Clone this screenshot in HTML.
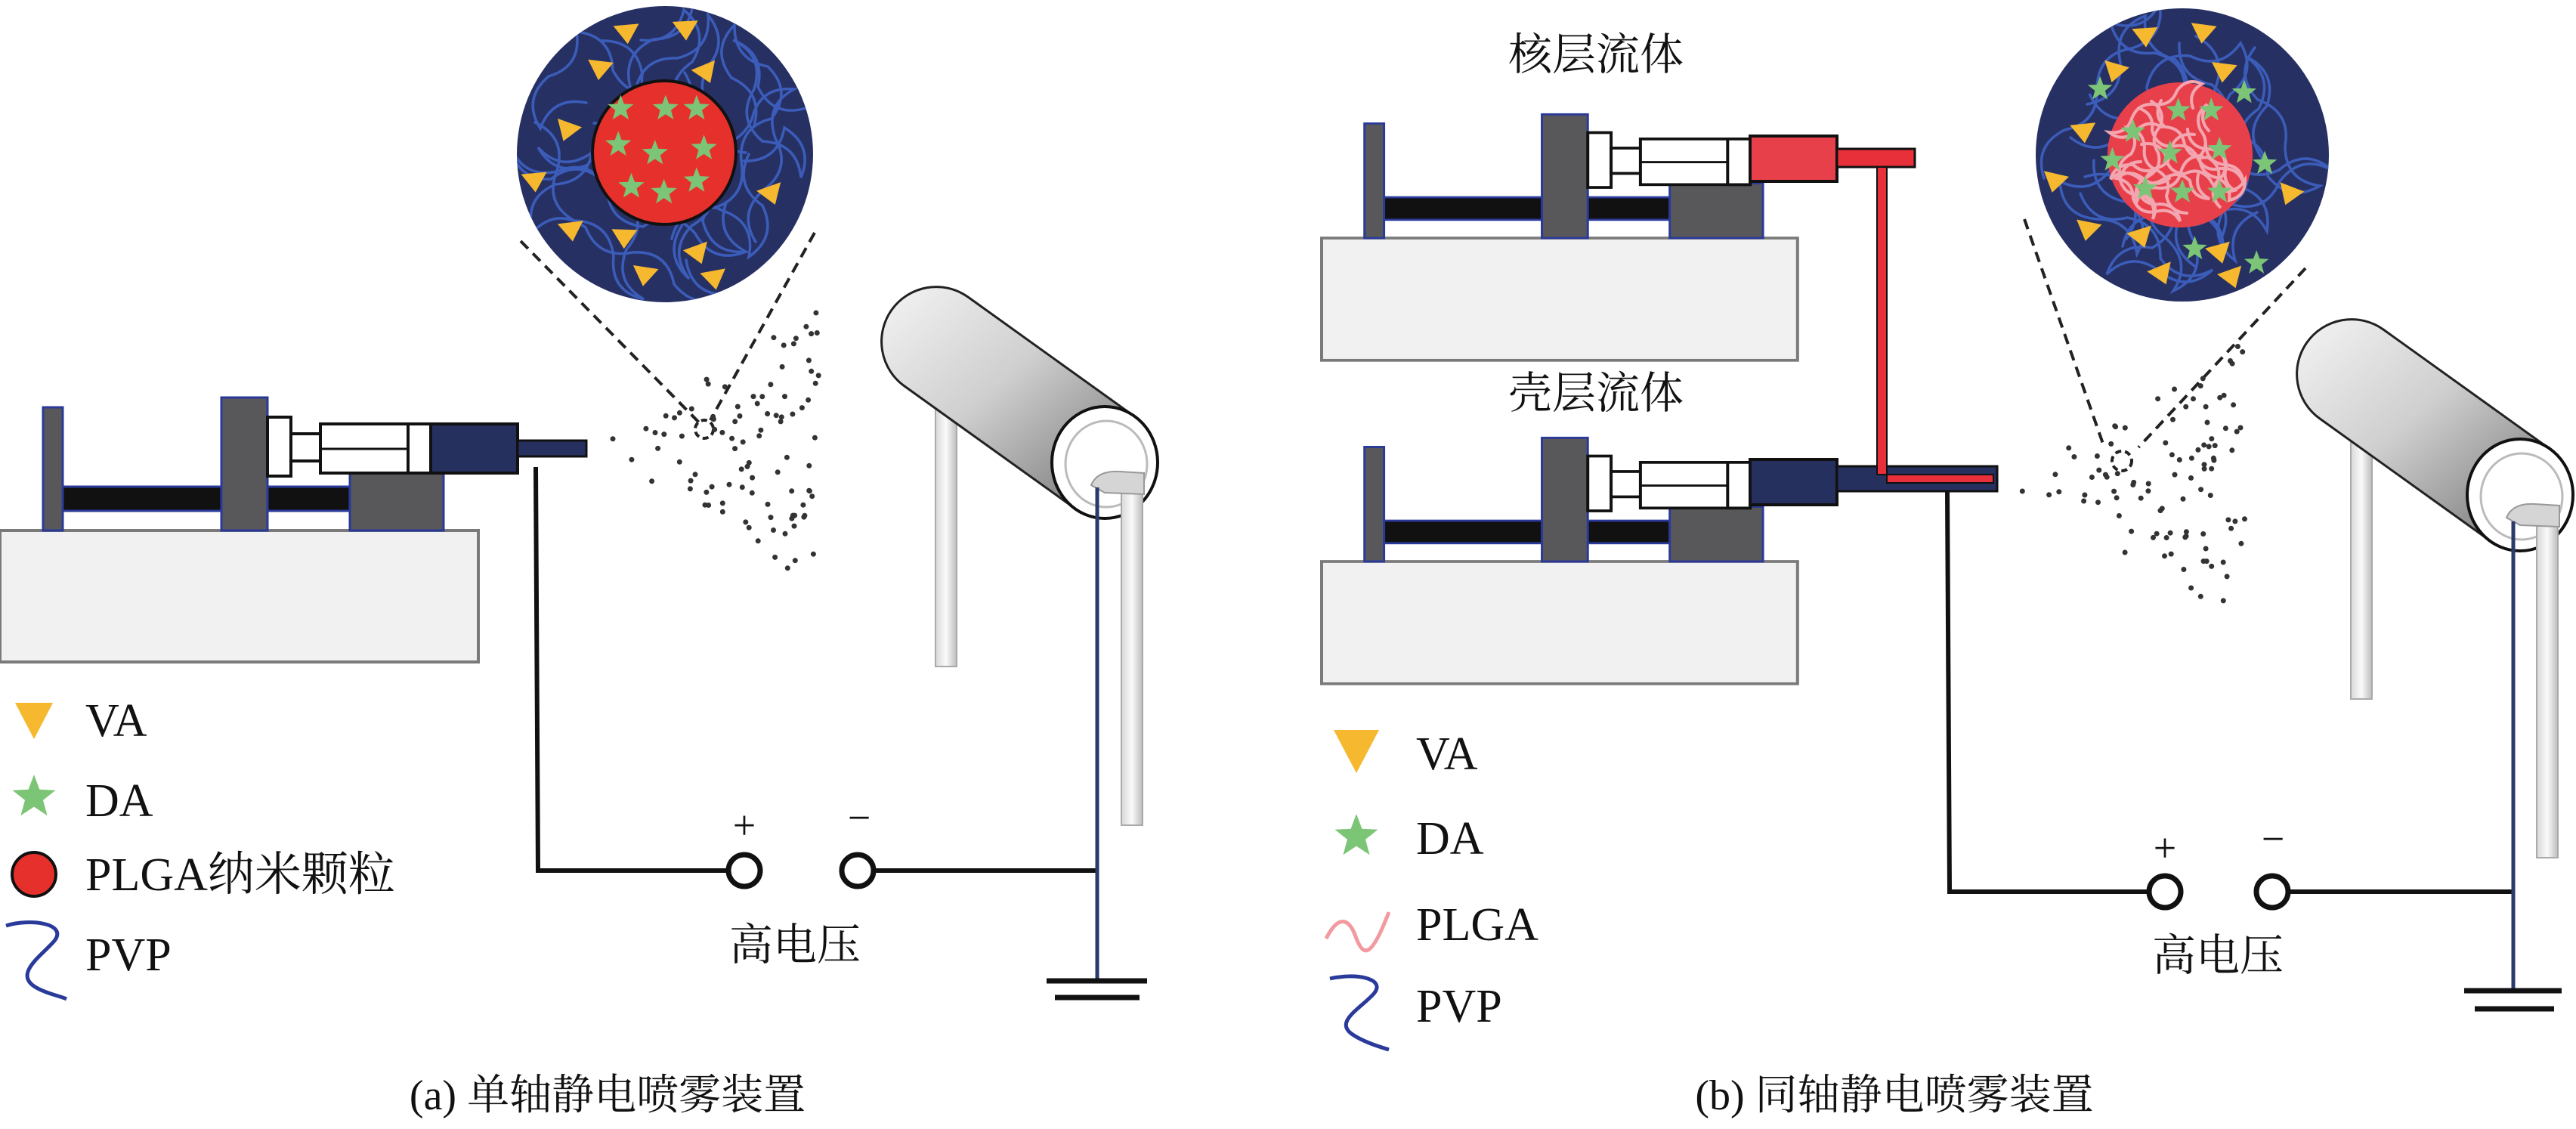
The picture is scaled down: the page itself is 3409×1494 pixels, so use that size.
<!DOCTYPE html>
<html><head><meta charset="utf-8"><style>
html,body{margin:0;padding:0;background:#fff;}
svg{display:block;}
text{font-family:"Liberation Serif","Noto Serif CJK SC",serif;fill:#111;}
</style></head><body>
<svg id="s" width="3409" height="1494" viewBox="0 0 3409 1494" xmlns="http://www.w3.org/2000/svg">
<defs>
<linearGradient id="cyl" x1="0" y1="0" x2="1" y2="1">
<stop offset="0" stop-color="#f4f4f4"/><stop offset="0.45" stop-color="#cfcfcf"/><stop offset="1" stop-color="#6e6e6e"/></linearGradient>
<linearGradient id="leg" x1="0" y1="0" x2="1" y2="0">
<stop offset="0" stop-color="#d8d8d8"/><stop offset="0.5" stop-color="#fafafa"/><stop offset="1" stop-color="#bcbcbc"/></linearGradient>
<clipPath id="c1"><circle cx="880" cy="204" r="196"/></clipPath>
<clipPath id="c2"><circle cx="2888" cy="205" r="194"/></clipPath>
<g id="pump">
<rect x="0" y="0" width="633" height="174" fill="#f1f1f1" stroke="#7a7a7a" stroke-width="4"/>
<rect x="57" y="-163" width="26" height="163" fill="#58585a" stroke="#2a3a9a" stroke-width="3"/>
<rect x="83" y="-58" width="380" height="32" fill="#111" stroke="#2a3a9a" stroke-width="3"/>
<rect x="293" y="-176" width="61" height="176" fill="#58585a" stroke="#2a3a9a" stroke-width="3"/>
<rect x="463" y="-78" width="124" height="78" fill="#58585a" stroke="#2a3a9a" stroke-width="3"/>
<rect x="354" y="-150" width="31" height="78" fill="#fff" stroke="#111" stroke-width="4"/>
<rect x="385" y="-128" width="40" height="36" fill="#fff" stroke="#111" stroke-width="4"/>
<rect x="424" y="-141" width="146" height="65" fill="#fff" stroke="#111" stroke-width="4"/>
<line x1="424" y1="-108" x2="540" y2="-108" stroke="#111" stroke-width="3"/>
<rect x="540" y="-141" width="30" height="65" fill="#fff" stroke="#111" stroke-width="4"/>
</g>
<g id="cylg">
<rect x="-224" y="-70" width="28" height="340" fill="url(#leg)" stroke="#aaa" stroke-width="2"/>
<path d="M-265,-101 L-42,59 L42,-59 L-181,-219 A72,72 0 0 0 -265,-101 Z" fill="url(#cyl)" stroke="#222" stroke-width="3"/>
<ellipse cx="0" cy="0" rx="70" ry="74" fill="#fff" stroke="#111" stroke-width="4"/>
<ellipse cx="2" cy="2" rx="54" ry="57" fill="#fff" stroke="#bbb" stroke-width="3"/>
<rect x="22" y="20" width="28" height="460" fill="url(#leg)" stroke="#aaa" stroke-width="2"/>
<path d="M-18,30 Q-10,10 20,12 L52,14 L52,42 L0,40 Z" fill="#d5d5d5" stroke="#999" stroke-width="2"/>
</g>
</defs>

<!-- LEFT PANEL -->
<use href="#pump" transform="translate(0,702)"/>
<rect x="570" y="561" width="115" height="65" fill="#25305f" stroke="#111" stroke-width="4"/>
<rect x="685" y="583" width="91" height="21" fill="#25305f" stroke="#111" stroke-width="3"/>
<polyline points="709,618 712,1152 963,1152" fill="none" stroke="#111" stroke-width="6"/>
<circle cx="985" cy="1152" r="21" fill="#fff" stroke="#111" stroke-width="7"/>
<circle cx="1135" cy="1152" r="21" fill="#fff" stroke="#111" stroke-width="7"/>
<line x1="1156" y1="1152" x2="1452" y2="1152" stroke="#111" stroke-width="6"/>
<use href="#cylg" transform="translate(1462,612)"/>
<line x1="1452" y1="645" x2="1452" y2="1298" stroke="#2a3a6a" stroke-width="5"/>
<line x1="1385" y1="1298" x2="1518" y2="1298" stroke="#111" stroke-width="7"/>
<line x1="1396" y1="1320" x2="1508" y2="1320" stroke="#111" stroke-width="7"/>
<text x="985" y="1110" font-size="54" text-anchor="middle">+</text>
<text x="1137" y="1100" font-size="54" text-anchor="middle">−</text>
<text x="1052" y="1270" font-size="58" text-anchor="middle">高电压</text>
<circle cx="880" cy="204" r="196" fill="#263063"/>
<g id="sq1" clip-path="url(#c1)"></g>
<circle cx="879" cy="202" r="95" fill="#e6302c" stroke="#111" stroke-width="4"/>
<g id="st1"></g>
<line x1="689" y1="319" x2="926" y2="560" stroke="#222" stroke-width="4" stroke-dasharray="14,9"/>
<line x1="1078" y1="308" x2="940" y2="556" stroke="#222" stroke-width="4" stroke-dasharray="14,9"/>
<circle cx="932" cy="568" r="12" fill="none" stroke="#222" stroke-width="4" stroke-dasharray="8,5"/>
<g id="dots1"></g>
<!-- legend left -->
<polygon points="20,930 70,930 45,978" fill="#f5b82e"/>
<g id="lg1"></g>
<circle cx="45" cy="1157" r="29" fill="#e6302c" stroke="#111" stroke-width="4"/>
<path d="M8,1225 C40,1215 90,1222 72,1245 C55,1265 15,1290 50,1308 C65,1316 80,1318 88,1322" fill="none" stroke="#2a3a9a" stroke-width="5"/>
<text x="113" y="974" font-size="62">VA</text>
<text x="113" y="1080" font-size="62">DA</text>
<text x="113" y="1178" font-size="62">PLGA纳米颗粒</text>
<text x="113" y="1284" font-size="62">PVP</text>
<text x="804" y="1468" font-size="56" text-anchor="middle">(a) 单轴静电喷雾装置</text>

<!-- RIGHT PANEL -->
<text x="2112" y="92" font-size="58" text-anchor="middle">核层流体</text>
<text x="2112" y="540" font-size="58" text-anchor="middle">壳层流体</text>
<use href="#pump" transform="translate(1749,315) scale(0.995,0.93)"/>
<use href="#pump" transform="translate(1749,743) scale(0.995,0.93)"/>
<rect x="2316" y="180" width="115" height="60" fill="#e8404a" stroke="#111" stroke-width="4"/>
<rect x="2316" y="608" width="115" height="60" fill="#25305f" stroke="#111" stroke-width="4"/>
<rect x="2431" y="617" width="212" height="33" fill="#25305f" stroke="#111" stroke-width="3"/>
<rect x="2431" y="197" width="103" height="24" fill="#e8303a" stroke="#111" stroke-width="3"/>
<path d="M2484,221 L2484,628 L2638,628 L2638,639 L2497,639 L2497,221 Z" fill="#e8303a" stroke="#111" stroke-width="2"/>
<polyline points="2577,650 2580,1180 2843,1180" fill="none" stroke="#111" stroke-width="6"/>
<circle cx="2865" cy="1180" r="21" fill="#fff" stroke="#111" stroke-width="7"/>
<circle cx="3007" cy="1180" r="21" fill="#fff" stroke="#111" stroke-width="7"/>
<line x1="3028" y1="1180" x2="3328" y2="1180" stroke="#111" stroke-width="6"/>
<use href="#cylg" transform="translate(3335,655)"/>
<line x1="3326" y1="690" x2="3326" y2="1311" stroke="#2a3a6a" stroke-width="5"/>
<line x1="3261" y1="1311" x2="3390" y2="1311" stroke="#111" stroke-width="7"/>
<line x1="3275" y1="1335" x2="3380" y2="1335" stroke="#111" stroke-width="7"/>
<text x="2865" y="1140" font-size="54" text-anchor="middle">+</text>
<text x="3008" y="1128" font-size="54" text-anchor="middle">−</text>
<text x="2935" y="1284" font-size="58" text-anchor="middle">高电压</text>
<circle cx="2888" cy="205" r="194" fill="#263063"/>
<g id="sq2" clip-path="url(#c2)"></g>
<circle cx="2885" cy="205" r="96" fill="#e8404a"/>
<g id="pl2" clip-path="url(#c2)"></g>
<g id="st2"></g>
<line x1="2679" y1="290" x2="2784" y2="590" stroke="#222" stroke-width="4" stroke-dasharray="14,9"/>
<line x1="3051" y1="355" x2="2830" y2="592" stroke="#222" stroke-width="4" stroke-dasharray="14,9"/>
<circle cx="2808" cy="610" r="13" fill="none" stroke="#222" stroke-width="4" stroke-dasharray="8,5"/>
<g id="dots2"></g>
<polygon points="1765,966 1825,966 1795,1023" fill="#f5b82e"/>
<g id="lg2"></g>
<path d="M1755,1242 C1770,1212 1785,1212 1795,1242 C1805,1267 1815,1267 1838,1207" fill="none" stroke="#f19aa0" stroke-width="5"/>
<path d="M1760,1295 C1795,1287 1835,1295 1818,1315 C1800,1335 1765,1352 1790,1369 C1805,1379 1825,1385 1838,1389" fill="none" stroke="#2a3a9a" stroke-width="5"/>
<text x="1874" y="1018" font-size="62">VA</text>
<text x="1874" y="1130" font-size="62">DA</text>
<text x="1874" y="1244" font-size="62">PLGA</text>
<text x="1874" y="1352" font-size="62">PVP</text>
<text x="2507" y="1468" font-size="56" text-anchor="middle">(b) 同轴静电喷雾装置</text>
</svg>
<script>
var NS="http://www.w3.org/2000/svg";
var seed=11;function r(){seed=(seed*16807)%2147483647;return seed/2147483647;}
function el(p,t,a){var e=document.createElementNS(NS,t);for(var k in a)e.setAttribute(k,a[k]);document.getElementById(p).appendChild(e);return e;}
function star(cx,cy,R){var s="";for(var i=0;i<10;i++){var a=-Math.PI/2+i*Math.PI/5,rr=i%2?R*0.42:R;s+=(cx+rr*Math.cos(a)).toFixed(1)+","+(cy+rr*Math.sin(a)).toFixed(1)+" ";}return s;}
function tri(p,cx,cy,s,rot){var pts=[[-s,-s*0.6],[s,-s*0.6],[0,s*0.9]].map(function(q){var c=Math.cos(rot),n=Math.sin(rot);return (cx+q[0]*c-q[1]*n).toFixed(1)+","+(cy+q[0]*n+q[1]*c).toFixed(1);}).join(" ");el(p,"polygon",{points:pts,fill:"#f5b82e"});}
function wavy(p,cx,cy,R,n,col,w,seg,amp){for(var i=0;i<n;i++){var a=r()*6.28,d=R*(0.3+0.6*r());var x=cx+d*Math.cos(a),y=cy+d*Math.sin(a);var dir=r()*6.28;var s="M"+x.toFixed(0)+","+y.toFixed(0);var side=1;for(var j=0;j<7;j++){dir+=(r()-0.5)*1.4;var nx=x+seg*Math.cos(dir),ny=y+seg*Math.sin(dir);if(Math.hypot(nx-cx,ny-cy)>R*1.05){dir+=2.5;nx=x+seg*Math.cos(dir);ny=y+seg*Math.sin(dir);}var mx=(x+nx)/2-side*amp*Math.sin(dir),my=(y+ny)/2+side*amp*Math.cos(dir);side=-side;s+=" Q"+mx.toFixed(0)+","+my.toFixed(0)+" "+nx.toFixed(0)+","+ny.toFixed(0);x=nx;y=ny;}el(p,"path",{d:s,fill:"none",stroke:col,"stroke-width":w,"stroke-linecap":"round"});}}
wavy("sq1",880,204,196,12,"#3b5cb8",3.5,70,30);
wavy("sq2",2888,205,194,12,"#3b5cb8",3.5,70,30);
wavy("pl2",2885,205,95,10,"#f3a6b0",4,35,14);
[[768,45],[840,40],[735,95],[865,100],[695,180],[655,250],[945,268],[700,318],[765,328],[855,350],[790,380],[875,385]].forEach(function(t){tri("st1",t[0]*1.08,t[1]*0.957,17,r()*0.8-0.4);});
[[755,150],[810,150],[848,150],[752,200],[797,212],[857,205],[768,258],[808,266],[848,250]].forEach(function(t){el("st1","polygon",{points:star(t[0]*1.08+6,t[1]*0.957,18),fill:"#7cc576"});});
[[1045,45],[1115,40],[1008,95],[1140,95],[970,180],[935,250],[1220,268],[975,318],[1040,328],[1135,350],[1065,380],[1150,385]].forEach(function(t){tri("st2",1700+t[0]*1.09,t[1]*0.94+5,17,r()*0.8-0.4);});
[[990,120],[1165,125],[1030,180],[1085,150],[1125,150],[1075,210],[1135,205],[1005,220],[1190,225],[1045,260],[1090,265],[1135,265],[1105,345],[1180,365]].forEach(function(t){el("st2","polygon",{points:star(1700+t[0]*1.09,t[1]*0.94+5,17),fill:"#7cc576"});});
el("lg1","polygon",{points:star(45,1055,30),fill:"#7cc576"});
el("lg2","polygon",{points:star(1795,1107,30),fill:"#7cc576"});
function dots(p,x0,y0,len,spread,n){for(var i=0;i<n;i++){var t=Math.sqrt(r());var x=x0+t*len;var y=y0+(r()*2-1)*t*spread;el(p,"circle",{cx:x.toFixed(1),cy:y.toFixed(1),r:3.5,fill:"#333"});}}
dots("dots1",785,594,300,190,95);
dots("dots2",2652,640,320,190,95);
</script>
</body></html>
